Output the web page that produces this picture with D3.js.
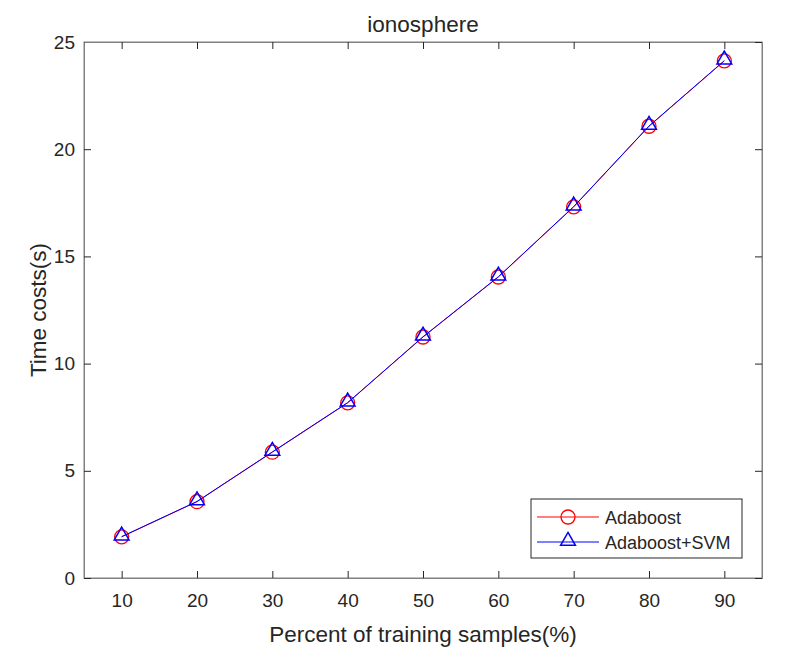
<!DOCTYPE html>
<html>
<head>
<meta charset="utf-8">
<script src="https://cdn.jsdelivr.net/npm/d3@7"></script>
<style>
  body { margin: 0; background: #fff; }
  text { font-family: "Liberation Sans", Arial, sans-serif; fill: #262626; }
</style>
</head>
<body>
<div id="chart"></div>
<script>
// data
const percents = [10, 20, 30, 40, 50, 60, 70, 80, 90];
const adaboost = [1.92, 3.56, 5.87, 8.17, 11.24, 14.04, 17.31, 21.07, 24.12];
const adaboostSvm = [1.93, 3.57, 5.88, 8.18, 11.25, 14.05, 17.32, 21.08, 24.13];
const xTicks = [10, 20, 30, 40, 50, 60, 70, 80, 90];
const yTicks = [0, 5, 10, 15, 20, 25];
const seriesNames = ["Adaboost", "Adaboost+SVM"];

const width = 809, height = 668;
const margin = {left: 84, right: 47, top: 42, bottom: 90};
const axisColor = "#808080";

const svg = d3.select("#chart")
    .append("svg")
    .attr("width", width)
    .attr("height", height);

const x = d3.scaleLinear().domain([5, 95]).range([margin.left, width - margin.right]);
const y = d3.scaleLinear().domain([0, 25]).range([height - margin.bottom, margin.top]);

// box
svg.append("rect")
    .attr("x", x.range()[0])
    .attr("y", y.range()[1])
    .attr("width", x.range()[1] - x.range()[0])
    .attr("height", y.range()[0] - y.range()[1])
    .attr("fill", "none")
    .attr("stroke", axisColor)
    .attr("stroke-width", 1);

// ticks point inward, matlab style
svg.append("g")
    .attr("transform", "translate(0," + y(0) + ")")
    .call(d3.axisBottom(x).tickValues(xTicks).tickSizeInner(-7).tickSizeOuter(0).tickPadding(16));
svg.append("g")
    .attr("transform", "translate(" + x(5) + ",0)")
    .call(d3.axisLeft(y).tickValues(yTicks).tickSizeInner(-7).tickSizeOuter(0).tickPadding(9));
// top / right mirrored ticks
svg.append("g")
    .attr("transform", "translate(0," + y(25) + ")")
    .call(d3.axisTop(x).tickValues(xTicks).tickSizeInner(-7).tickSizeOuter(0).tickFormat(""));
svg.append("g")
    .attr("transform", "translate(" + x(95) + ",0)")
    .call(d3.axisRight(y).tickValues(yTicks).tickSizeInner(-7).tickSizeOuter(0).tickFormat(""));

svg.selectAll(".domain").attr("stroke", axisColor);
svg.selectAll(".tick line").attr("stroke", "#262626");
svg.selectAll(".tick text")
    .style("font-size", "19px")
    .style("font-family", "'Liberation Sans', Arial, sans-serif")
    .attr("fill", "#262626");

// titles
svg.append("text")
    .attr("x", (x.range()[0] + x.range()[1]) / 2)
    .attr("y", 32)
    .attr("text-anchor", "middle")
    .style("font-size", "22.5px")
    .text("ionosphere");
svg.append("text")
    .attr("x", (x.range()[0] + x.range()[1]) / 2)
    .attr("y", 642)
    .attr("text-anchor", "middle")
    .style("font-size", "22.5px")
    .text("Percent of training samples(%)");
svg.append("text")
    .attr("transform", "translate(46," + (y.range()[0] + y.range()[1]) / 2 + ") rotate(-90)")
    .attr("text-anchor", "middle")
    .style("font-size", "22.5px")
    .text("Time costs(s)");

const line = d3.line()
    .x(function(d, i) { return x(percents[i]); })
    .y(function(d) { return y(d); });

const tri = d3.symbol().type(d3.symbolTriangle).size(95);

// Adaboost: red line + circles
svg.append("path")
    .datum(adaboost)
    .attr("d", line)
    .attr("fill", "none")
    .attr("stroke", "#ff0000")
    .attr("stroke-width", 1);
svg.append("g").selectAll("circle")
    .data(adaboost)
    .enter()
    .append("circle")
    .attr("cx", function(d, i) { return x(percents[i]); })
    .attr("cy", function(d) { return y(d); })
    .attr("r", 7)
    .attr("fill", "none")
    .attr("stroke", "#ff0000")
    .attr("stroke-width", 1.3);

// Adaboost+SVM: blue line + triangles
svg.append("path")
    .datum(adaboostSvm)
    .attr("d", line)
    .attr("fill", "none")
    .attr("stroke", "#0000ff")
    .attr("stroke-width", 1);
svg.append("g").selectAll("path")
    .data(adaboostSvm)
    .enter()
    .append("path")
    .attr("d", tri)
    .attr("transform", function(d, i) { return "translate(" + x(percents[i]) + "," + (y(d) - 1) + ")"; })
    .attr("fill", "none")
    .attr("stroke", "#0000ff")
    .attr("stroke-width", 1.5);

// legend
const legend = svg.append("g").attr("transform", "translate(531,499)");
legend.append("rect")
    .attr("width", 211)
    .attr("height", 59)
    .attr("fill", "#fff")
    .attr("stroke", "#262626")
    .attr("stroke-width", 1);
const colors = ["#ff0000", "#0000ff"];
seriesNames.forEach(function(name, i) {
    const ry = 18 + i * 25;
    legend.append("line")
        .attr("x1", 6).attr("x2", 68)
        .attr("y1", ry).attr("y2", ry)
        .attr("stroke", colors[i]);
    if (i === 0) {
        legend.append("circle")
            .attr("cx", 37).attr("cy", ry).attr("r", 7)
            .attr("fill", "none").attr("stroke", colors[i]).attr("stroke-width", 1.3);
    } else {
        legend.append("path")
            .attr("d", tri)
            .attr("transform", "translate(37," + (ry - 1) + ")")
            .attr("fill", "none").attr("stroke", colors[i]).attr("stroke-width", 1.5);
    }
    legend.append("text")
        .attr("x", 74)
        .attr("y", ry + 6.5)
        .style("font-size", "18px")
        .text(name);
});
</script>
</body>
</html>
